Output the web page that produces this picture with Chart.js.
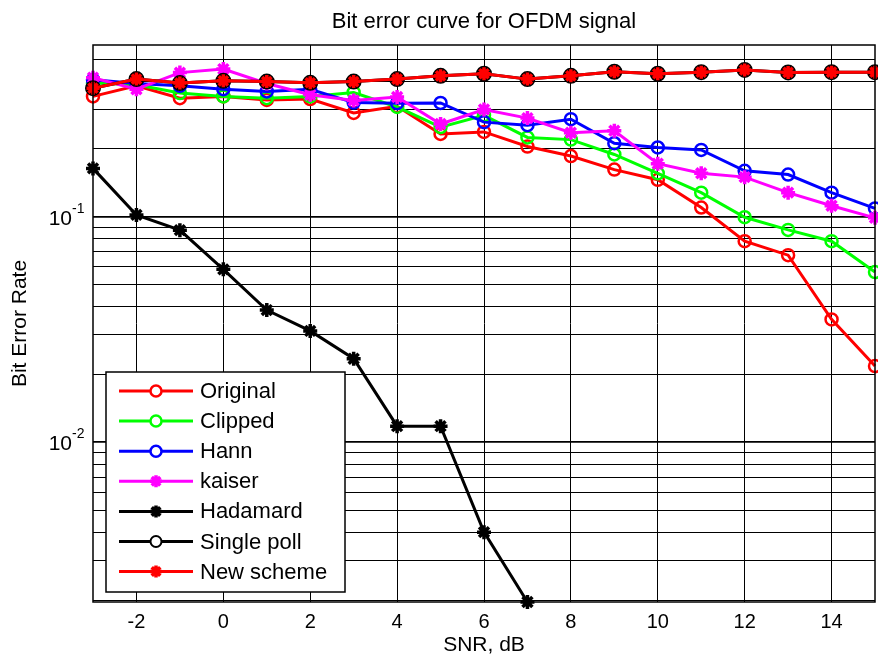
<!DOCTYPE html>
<html>
<head>
<meta charset="utf-8">
<script src="https://cdn.jsdelivr.net/npm/chart.js@4.4.1/dist/chart.umd.min.js"></script>
<style>
  html, body { margin: 0; padding: 0; background: #fff; }
</style>
</head>
<body>
<canvas id="ber" width="878" height="658"></canvas>
<script>
// SNR axis (dB)
const snr = [-3, -2, -1, 0, 1, 2, 3, 4, 5, 6, 7, 8, 9, 10, 11, 12, 13, 14, 15];
const snrHadamard = [-3, -2, -1, 0, 1, 2, 3, 4, 5, 6, 7];

// bit error rates
const original   = [0.342, 0.381, 0.336, 0.342, 0.330, 0.333, 0.289, 0.309, 0.233, 0.238, 0.205, 0.186, 0.162, 0.146, 0.110, 0.078, 0.0676, 0.0351, 0.0218];
const clipped    = [0.392, 0.385, 0.354, 0.342, 0.336, 0.342, 0.356, 0.307, 0.250, 0.282, 0.225, 0.220, 0.189, 0.156, 0.128, 0.0996, 0.0875, 0.078, 0.0569];
const hann       = [0.405, 0.390, 0.381, 0.368, 0.360, 0.368, 0.321, 0.319, 0.320, 0.263, 0.255, 0.271, 0.212, 0.203, 0.198, 0.160, 0.154, 0.128, 0.109];
const kaiser     = [0.414, 0.368, 0.436, 0.452, 0.390, 0.348, 0.328, 0.340, 0.258, 0.299, 0.274, 0.236, 0.241, 0.172, 0.156, 0.150, 0.128, 0.112, 0.099];
const hadamard   = [0.164, 0.102, 0.0873, 0.0585, 0.0386, 0.0312, 0.0235, 0.0118, 0.0118, 0.0040, 0.00196];
const singlePoll = [0.372, 0.408, 0.392, 0.401, 0.398, 0.393, 0.398, 0.408, 0.422, 0.431, 0.408, 0.422, 0.440, 0.431, 0.438, 0.448, 0.437, 0.438, 0.438];
const newScheme  = [0.372, 0.408, 0.392, 0.401, 0.398, 0.393, 0.398, 0.408, 0.422, 0.431, 0.408, 0.422, 0.440, 0.431, 0.438, 0.448, 0.437, 0.438, 0.438];

// ticks
const xTicks = [-2, 0, 2, 4, 6, 8, 10, 12, 14];
const yGridTicks = [0.002, 0.003, 0.004, 0.005, 0.006, 0.007, 0.008, 0.009,
                    0.01, 0.02, 0.03, 0.04, 0.05, 0.06, 0.07, 0.08, 0.09,
                    0.1, 0.2, 0.3, 0.4, 0.5];
const yLabelTicks = [0.1, 0.01];
const yLabelExp = ['-1', '-2'];

const FONT = "'Liberation Sans', Arial, Helvetica, sans-serif";
Chart.defaults.font.family = FONT;
Chart.defaults.color = '#000';

const pts = (xs, ys) => ys.map((y, i) => ({ x: xs[i], y: y }));

function series(label, xs, ys, color, style, radius, bw, fill) {
  return {
    label: label,
    data: pts(xs, ys),
    borderColor: color,
    backgroundColor: color,
    borderWidth: 3,
    pointStyle: style,
    pointRadius: radius,
    pointHoverRadius: radius,
    pointBorderWidth: bw,
    pointBorderColor: color,
    pointBackgroundColor: fill || 'rgba(0,0,0,0)',
    tension: 0,
    clip: false
  };
}

const datasets = [
  series('Original', snr, original, '#ff0000', 'circle', 6, 2.5),
  series('Clipped', snr, clipped, '#00ff00', 'circle', 6, 2.5),
  series('Hann', snr, hann, '#0000ff', 'circle', 6, 2.5),
  series('kaiser', snr, kaiser, '#ff00ff', 'star', 7, 3.5),
  series('Hadamard', snrHadamard, hadamard, '#000000', 'star', 7, 3.5),
  series('Single poll', snr, singlePoll, '#000000', 'circle', 7, 2, '#000000'),
  series('New scheme', snr, newScheme, '#ff0000', 'star', 6.5, 3.5)
];
// later series drawn on top, like the original figure
datasets.forEach((d, i) => { d.order = datasets.length - i; });

const isDecade = v => Math.abs(Math.log10(v) - Math.round(Math.log10(v))) < 1e-9;

const framePlugin = {
  id: 'frame',
  afterDraw(chart) {
    const ctx = chart.ctx;
    const a = chart.chartArea;
    const yScale = chart.scales.y;
    ctx.save();

    // axes box
    ctx.strokeStyle = '#000';
    ctx.lineWidth = 1.5;
    ctx.strokeRect(a.left, a.top, a.right - a.left, a.bottom - a.top);

    // 10^n labels
    ctx.fillStyle = '#000';
    yLabelTicks.forEach((v, i) => {
      const y = yScale.getPixelForValue(v);
      ctx.font = '21px ' + FONT;
      ctx.textAlign = 'right';
      ctx.textBaseline = 'middle';
      ctx.fillText('10', 72, y + 2);
      ctx.font = '14px ' + FONT;
      ctx.textAlign = 'left';
      ctx.textBaseline = 'alphabetic';
      ctx.fillText(yLabelExp[i], 72, y - 4);
    });

    // legend box
    const lx = 106, ly = 372, lw = 239, lh = 220, row = 30.1;
    ctx.fillStyle = '#fff';
    ctx.fillRect(lx, ly, lw, lh);
    ctx.lineWidth = 1.5;
    ctx.strokeStyle = '#000';
    ctx.strokeRect(lx, ly, lw, lh);

    chart.data.datasets.forEach((ds, i) => {
      const y = ly + 19 + i * row;
      ctx.strokeStyle = ds.borderColor;
      ctx.lineWidth = 3;
      ctx.beginPath();
      ctx.moveTo(119, y);
      ctx.lineTo(193, y);
      ctx.stroke();

      ctx.fillStyle = '#fff';
      ctx.lineWidth = ds.pointBorderWidth;
      Chart.helpers.drawPoint(ctx, {
        pointStyle: ds.pointStyle,
        radius: ds.pointStyle === 'circle' ? 5.5 : 6,
        borderWidth: ds.pointBorderWidth,
        rotation: 0
      }, 156, y);

      ctx.fillStyle = '#000';
      ctx.font = '22px ' + FONT;
      ctx.textAlign = 'left';
      ctx.textBaseline = 'middle';
      ctx.fillText(ds.label, 200, y + 1);
    });
    ctx.restore();
  }
};

new Chart(document.getElementById('ber').getContext('2d'), {
  type: 'line',
  data: { datasets: datasets },
  options: {
    responsive: false,
    animation: false,
    devicePixelRatio: 1,
    layout: { autoPadding: false, padding: { left: 0, right: 3, top: 0, bottom: 0 } },
    plugins: {
      legend: { display: false },
      tooltip: { enabled: false },
      title: {
        display: true,
        text: 'Bit error curve for OFDM signal',
        fullSize: false,
        color: '#000',
        font: { size: 22, weight: 'normal' },
        padding: { top: 9, bottom: 9.6 }
      }
    },
    scales: {
      x: {
        type: 'linear',
        min: -3,
        max: 15,
        afterBuildTicks: scale => { scale.ticks = xTicks.map(v => ({ value: v })); },
        afterFit: scale => { scale.height = 56; },
        ticks: {
          autoSkip: false,
          maxRotation: 0,
          padding: 8,
          color: '#000',
          font: { size: 20 }
        },
        grid: { color: '#000', lineWidth: 1, drawTicks: false },
        border: { display: false },
        title: {
          display: true,
          text: 'SNR, dB',
          color: '#000',
          font: { size: 21 },
          padding: { top: 0, bottom: 0 }
        }
      },
      y: {
        type: 'logarithmic',
        min: 0.00196,
        max: 0.578,
        afterBuildTicks: scale => { scale.ticks = yGridTicks.map(v => ({ value: v })); },
        afterFit: scale => { scale.width = 93; },
        ticks: { display: false },
        grid: {
          color: '#000',
          drawTicks: false,
          lineWidth: c => (c.tick && isDecade(c.tick.value)) ? 1.8 : 1
        },
        border: { display: false },
        title: {
          display: true,
          text: 'Bit Error Rate',
          color: '#000',
          font: { size: 21 },
          padding: { top: 8, bottom: 0 }
        }
      }
    }
  },
  plugins: [framePlugin]
});
</script>
</body>
</html>
